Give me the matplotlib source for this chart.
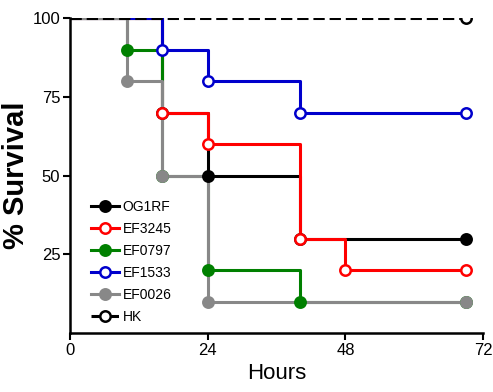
import numpy as np
import matplotlib
matplotlib.use("Agg")
import matplotlib.pyplot as plt

plt.rcParams['font.family'] = ['Liberation Sans', 'DejaVu Sans']

end_time = 69

# step curves: times where survival drops, and survival after each drop
og1rf_t = [0, 16, 24, 40]
og1rf_s = [100, 70, 50, 30]
ef3245_t = [0, 16, 24, 40, 48]
ef3245_s = [100, 70, 60, 30, 20]
ef0797_t = [0, 10, 16, 24, 40]
ef0797_s = [100, 90, 50, 20, 10]
ef1533_t = [0, 16, 24, 40]
ef1533_s = [100, 90, 80, 70]
ef0026_t = [0, 10, 16, 24]
ef0026_s = [100, 80, 50, 10]
hk_t = [0]
hk_s = [100]

series = [
    ("OG1RF", og1rf_t, og1rf_s, "black", True, "-", 2),
    ("EF3245", ef3245_t, ef3245_s, "#ff0000", False, "-", 2),
    ("EF0797", ef0797_t, ef0797_s, "#008000", True, "-", 2),
    ("EF1533", ef1533_t, ef1533_s, "#0000cc", False, "-", 2),
    ("EF0026", ef0026_t, ef0026_s, "#888888", True, "-", 2),
    ("HK", hk_t, hk_s, "black", False, "--", 4),
]

fig = plt.figure(figsize=(4.93, 3.92), dpi=100)
ax = fig.add_axes([0.142, 0.150, 0.838, 0.804])

for name, t, s, c, filled, ls, z in series:
    tt = list(t) + [end_time]
    ss = list(s) + [s[-1]]
    ax.step(tt, ss, where='post', color=c, lw=2.2, ls=ls, zorder=z)
    ax.plot(tt[1:], ss[1:], ls='none', marker='o', ms=7.5,
            mfc=c if filled else 'white', mec=c, mew=1.8, zorder=z + 1)
    ax.plot([], [], color=c, lw=2.2, ls=ls, marker='o', ms=7.5,
            mfc=c if filled else 'white', mec=c, mew=1.8, label=name)

ax.set_xlim(0, 72)
ax.set_ylim(0, 100)
ax.set_xticks([0, 24, 48, 72])
ax.set_yticks([25, 50, 75, 100])
ax.spines['top'].set_visible(False)
ax.spines['right'].set_visible(False)
ax.spines['left'].set_linewidth(1.8)
ax.spines['bottom'].set_linewidth(1.8)
ax.tick_params(labelsize=12, width=1.5, length=5, pad=2)
ax.set_xlabel("Hours", fontsize=16, labelpad=4)
ax.set_ylabel("% Survival", fontsize=21, fontweight='bold', labelpad=2)

ax.legend(loc='lower left', bbox_to_anchor=(0.02, -0.01), frameon=False,
          fontsize=10, handlelength=2.0, labelspacing=0.58, handletextpad=0.3)

fig.savefig("out.png", dpi=100)
